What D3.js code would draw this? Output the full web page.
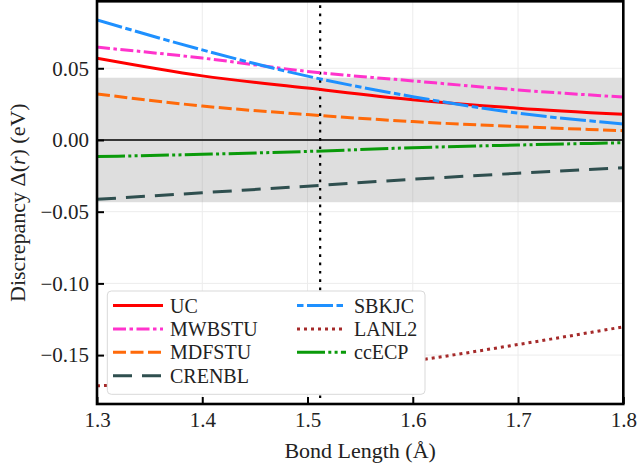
<!DOCTYPE html>
<html>
<head>
<meta charset="utf-8">
<script src="https://cdn.jsdelivr.net/npm/d3@7"></script>
<style>
  html, body { margin: 0; padding: 0; background: #fff; }
  svg { display: block; }
</style>
</head>
<body>
<svg id="chart" width="638" height="466"></svg>
<script>
// ---- data ----
const bondLengths = [1.3, 1.4, 1.5, 1.6, 1.7, 1.8];
const seriesNames = ["UC", "MWBSTU", "MDFSTU", "CRENBL", "SBKJC", "LANL2", "ccECP"];
const ucValues     = [0.0570, 0.0447, 0.0362, 0.0281, 0.0222, 0.0179];
const mwbstuValues = [0.0647, 0.0571, 0.0478, 0.0412, 0.0349, 0.0299];
const mdfstuValues = [0.0321, 0.0237, 0.0177, 0.0128, 0.0093, 0.0065];
const crenblValues = [-0.0414, -0.0368, -0.0322, -0.0274, -0.0232, -0.0193];
const sbkjcValues  = [0.0837, 0.0628, 0.0445, 0.0302, 0.0187, 0.0112];
const lanl2Values  = [-0.1714, -0.1680, -0.1620, -0.1540, -0.1426, -0.1303];
const ccecpValues  = [-0.0116, -0.0100, -0.0080, -0.0054, -0.0035, -0.0019];
const chemAccuracy = 0.0434;   // eV, shaded band ±
const equilibriumBond = 1.512; // vertical dotted line
const xTicks = [1.3, 1.4, 1.5, 1.6, 1.7, 1.8];
const yTicks = [-0.15, -0.10, -0.05, 0.00, 0.05];

// ---- styles ----
const FONT = '"Liberation Serif"';
const styles = {
  UC:     { color: "#ff0000", dash: null },
  MWBSTU: { color: "#ff33cc", dash: "13,3.5,3.5,3.5" },
  MDFSTU: { color: "#ff6a0a", dash: "13,4.5" },
  CRENBL: { color: "#2f4f4f", dash: "19,10" },
  SBKJC:  { color: "#1e90ff", dash: "26,3.5,6.5,3.5", legendOffset: 29.5 },
  LANL2:  { color: "#a52a2a", dash: "3,4" },
  ccECP:  { color: "#0a9a0a", dash: "28,3.3,3,3.3,3,3.3" }
};
const valuesByName = {
  UC: ucValues, MWBSTU: mwbstuValues, MDFSTU: mdfstuValues, CRENBL: crenblValues,
  SBKJC: sbkjcValues, LANL2: lanl2Values, ccECP: ccecpValues
};

const svg = d3.select("#chart");
const L = 97, R = 623.3, T = 1.3, B = 404;
const x = d3.scaleLinear().domain([1.3, 1.8]).range([L, R]);
const y = d3.scaleLinear().domain([-0.1841, 0.0967]).range([B, T]);

svg.append("defs").append("clipPath").attr("id", "plotclip")
  .append("rect").attr("x", L).attr("y", T).attr("width", R - L).attr("height", B - T);

// grid
const grid = svg.append("g");
grid.selectAll(".gx").data(xTicks).join("line")
  .attr("x1", d => x(d)).attr("x2", d => x(d)).attr("y1", T).attr("y2", B)
  .attr("stroke", "#ececec").attr("stroke-width", 1);
grid.selectAll(".gy").data(yTicks).join("line")
  .attr("x1", L).attr("x2", R).attr("y1", d => y(d)).attr("y2", d => y(d))
  .attr("stroke", "#ececec").attr("stroke-width", 1);

// band
svg.append("rect")
  .attr("x", L).attr("width", R - L)
  .attr("y", y(chemAccuracy)).attr("height", y(-chemAccuracy) - y(chemAccuracy))
  .attr("fill", "#808080").attr("fill-opacity", 0.26);

// zero line
svg.append("line").attr("x1", L).attr("x2", R).attr("y1", y(0)).attr("y2", y(0))
  .attr("stroke", "#000").attr("stroke-width", 1.4);

// vertical dotted line
svg.append("line").attr("x1", x(equilibriumBond)).attr("x2", x(equilibriumBond))
  .attr("y1", T).attr("y2", B)
  .attr("stroke", "#000").attr("stroke-width", 2.2).attr("stroke-dasharray", "2.7,5.6")
  .attr("stroke-dashoffset", -4);

// series
const line = d3.line().x(d => x(d[0])).y(d => y(d[1])).curve(d3.curveMonotoneX);
const plotG = svg.append("g").attr("clip-path", "url(#plotclip)");
seriesNames.forEach(name => {
  const pts = bondLengths.map((b, i) => [b, valuesByName[name][i]]);
  plotG.append("path").datum(pts)
    .attr("d", line)
    .attr("fill", "none")
    .attr("stroke", styles[name].color)
    .attr("stroke-width", 3)
    .attr("stroke-dasharray", styles[name].dash)
    .attr("stroke-linecap", "butt");
});

// axes
const fmtY = d3.format(".2f");
const fmtX = d3.format(".1f");
const yAxis = d3.axisLeft(y).tickValues(yTicks).tickFormat(fmtY).tickSizeInner(-7).tickSizeOuter(0).tickPadding(8);
const xAxis = d3.axisBottom(x).tickValues(xTicks).tickFormat(fmtX).tickSizeInner(-7).tickSizeOuter(0).tickPadding(9);

const gy = svg.append("g").attr("transform", `translate(${L},0)`).call(yAxis);
const gx = svg.append("g").attr("transform", `translate(0,${B})`).call(xAxis);
[gx, gy].forEach(g => {
  g.attr("font-family", null).attr("font-size", null);
  g.select(".domain").remove();
  g.selectAll(".tick line").attr("stroke", "#000").attr("stroke-width", 2);
  g.selectAll(".tick text").attr("fill", "#222")
    .style("font-family", FONT).style("font-size", "21px");
});
gx.selectAll(".tick text").attr("dy", "0.68em");

// frame
svg.append("rect").attr("x", L).attr("y", T).attr("width", R - L).attr("height", B - T)
  .attr("fill", "none").attr("stroke", "#000").attr("stroke-width", 2.6);

// axis labels
svg.append("text")
  .attr("x", (L + R) / 2).attr("y", 457.5)
  .attr("text-anchor", "middle")
  .style("font-family", FONT).style("font-size", "22px").attr("fill", "#222")
  .text("Bond Length (Å)");

const yl = svg.append("text")
  .attr("transform", `translate(25,${(T + B) / 2}) rotate(-90)`)
  .attr("text-anchor", "middle")
  .style("font-family", FONT).style("font-size", "22px").attr("fill", "#222");
yl.append("tspan").text("Discrepancy Δ(");
yl.append("tspan").style("font-style", "italic").text("r");
yl.append("tspan").text(") (eV)");

// legend
const legend = svg.append("g");
legend.append("rect")
  .attr("x", 107.3).attr("y", 291).attr("width", 425 - 107.3).attr("height", 394.3 - 291)
  .attr("rx", 4).attr("ry", 4)
  .attr("fill", "#fff").attr("stroke", "#d9d9d9").attr("stroke-width", 1);
const colDefs = [
  { names: ["UC", "MWBSTU", "MDFSTU", "CRENBL"], x0: 113, x1: 163, tx: 170 },
  { names: ["SBKJC", "LANL2", "ccECP"], x0: 297, x1: 346, tx: 354 }
];
colDefs.forEach(col => {
  col.names.forEach((name, i) => {
    const cy = 305.5 + i * 23.4;
    legend.append("line")
      .attr("x1", col.x0).attr("x2", col.x1).attr("y1", cy).attr("y2", cy)
      .attr("stroke", styles[name].color).attr("stroke-width", 3)
      .attr("stroke-dasharray", styles[name].dash)
      .attr("stroke-dashoffset", styles[name].legendOffset || 0);
    legend.append("text").attr("x", col.tx).attr("y", cy + 7)
      .style("font-family", FONT).style("font-size", "20px").attr("fill", "#222")
      .text(name);
  });
});
</script>
</body>
</html>
